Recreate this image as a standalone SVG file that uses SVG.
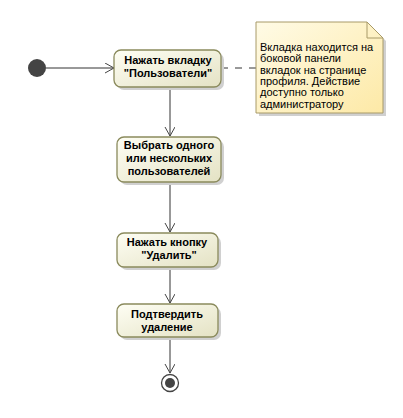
<svg xmlns="http://www.w3.org/2000/svg" width="403" height="418" viewBox="0 0 403 418">
<defs>
<linearGradient id="ag" x1="0" y1="0" x2="1" y2="1">
<stop offset="0" stop-color="#fefef4"/>
<stop offset="1" stop-color="#e4e2c4"/>
</linearGradient>
<linearGradient id="ng" x1="0" y1="0" x2="1" y2="1">
<stop offset="0" stop-color="#fffbe6"/>
<stop offset="1" stop-color="#fde9a6"/>
</linearGradient>
<marker id="arr" markerWidth="12" markerHeight="12" refX="9" refY="5" orient="auto" markerUnits="userSpaceOnUse">
<path d="M0,0 L9,5 L0,10" fill="none" stroke="#444" stroke-width="1"/>
</marker>
</defs>
<style>
.act{fill:url(#ag);stroke:#8a8a5c;stroke-width:1.3}
.sh{fill:#d0d0d0}
.t{font-family:"Liberation Sans",Arial,sans-serif;font-size:11px;font-weight:bold;fill:#000;text-anchor:middle}
.nt{font-family:"Liberation Sans",Arial,sans-serif;font-size:11px;fill:#000}
.c{stroke:#333;stroke-width:1;fill:none}
</style>
<rect width="403" height="418" fill="#fff"/>
<g id="connectors">
<line class="c" x1="46" y1="68" x2="114" y2="68" marker-end="url(#arr)"/>
<line class="c" x1="170" y1="88" x2="170" y2="136" marker-end="url(#arr)"/>
<line class="c" x1="170" y1="183" x2="170" y2="232" marker-end="url(#arr)"/>
<line class="c" x1="170" y1="268" x2="170" y2="303" marker-end="url(#arr)"/>
<line class="c" x1="170" y1="338" x2="170" y2="373" marker-end="url(#arr)"/>
<line class="c" x1="221" y1="68" x2="256" y2="68" stroke-dasharray="7,7"/>
</g>
<g id="start">
<circle cx="37" cy="68" r="9" fill="#444"/>
</g>
<g id="a1">
<rect class="sh" x="117" y="53" width="107" height="37" rx="7"/>
<rect class="act" x="114" y="50" width="107" height="37" rx="7"/>
<text class="t" x="168" y="64">Нажать вкладку</text>
<text class="t" x="168" y="77">"Пользователи"</text>
</g>
<g id="a2">
<rect class="sh" x="120" y="140" width="104" height="45" rx="7"/>
<rect class="act" x="117" y="137" width="104" height="45" rx="7"/>
<text class="t" x="169" y="149">Выбрать одного</text>
<text class="t" x="169" y="162">или нескольких</text>
<text class="t" x="169" y="175">пользователей</text>
</g>
<g id="a3">
<rect class="sh" x="120" y="236" width="101" height="34" rx="7"/>
<rect class="act" x="117" y="233" width="101" height="34" rx="7"/>
<text class="t" x="167" y="246">Нажать кнопку</text>
<text class="t" x="169" y="259">"Удалить"</text>
</g>
<g id="a4">
<rect class="sh" x="120" y="307" width="101" height="33" rx="7"/>
<rect class="act" x="117" y="304" width="101" height="33" rx="7"/>
<text class="t" x="167" y="318">Подтвердить</text>
<text class="t" x="167" y="331">удаление</text>
</g>
<g id="end">
<circle cx="170" cy="383" r="8.5" fill="#fff" stroke="#444" stroke-width="1.3"/>
<circle cx="170" cy="383" r="5" fill="#444"/>
</g>
<g id="note">
<path d="M259,25 L370,25 L386,41 L386,116 L259,116 Z" fill="#d0d0d0"/>
<path d="M256,22 L367,22 L383,38 L383,113 L256,113 Z" fill="url(#ng)" stroke="#a89a68" stroke-width="1"/>
<path d="M367,22 L367,38 L383,38" fill="none" stroke="#a89a68" stroke-width="1"/>
<text class="nt" x="260" y="51">Вкладка находится на</text>
<text class="nt" x="260" y="62.3">боковой панели</text>
<text class="nt" x="260" y="73.6">вкладок на странице</text>
<text class="nt" x="260" y="85">профиля. Действие</text>
<text class="nt" x="260" y="96.3">доступно только</text>
<text class="nt" x="260" y="107.6">администратору</text>
</g>
</svg>
